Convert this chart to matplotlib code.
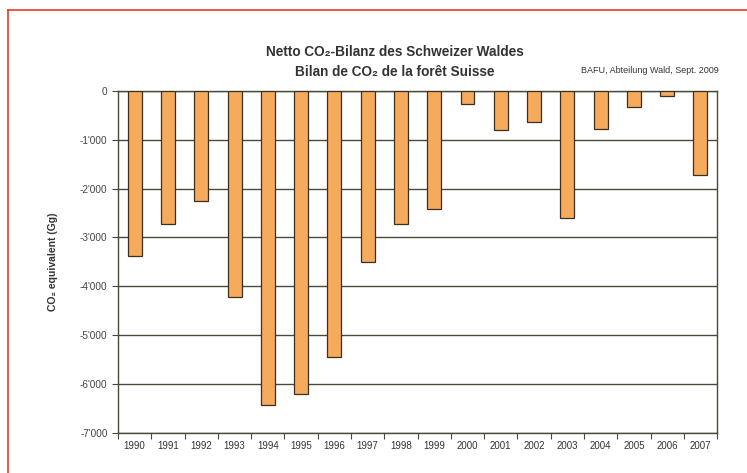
import numpy as np
import matplotlib.pyplot as plt
from matplotlib.lines import Line2D

years = ['1990', '1991', '1992', '1993', '1994', '1995', '1996', '1997', '1998',
         '1999', '2000', '2001', '2002', '2003', '2004', '2005', '2006', '2007']
bilanz = [-3370, -2720, -2250, -4210, -6420, -6200, -5440, -3500, -2720,
          -2410, -270, -800, -630, -2600, -780, -330, -100, -1720]
yticks = [0, -1000, -2000, -3000, -4000, -5000, -6000, -7000]

plt.rcParams['font.family'] = ['Liberation Sans', 'DejaVu Sans']

fig = plt.figure(figsize=(7.47, 4.73), dpi=100)
ax = fig.add_axes([0.158, 0.0846, 0.802, 0.7234])

grid_col = '#4a4a3a'
x = np.arange(len(years))
ax.bar(x, bilanz, width=0.42, color='#f5aa5c', edgecolor='#3a3020', linewidth=0.9, zorder=3)

ax.set_xlim(-0.5, len(years) - 0.5)
ax.set_ylim(-7000, 0)
ax.set_yticks(yticks)
ax.set_yticklabels(['0' if v == 0 else '-' + format(-v, ',').replace(',', "'") for v in yticks])
ax.set_xticks(np.arange(len(years) + 1) - 0.5, minor=False)
ax.set_xticklabels([])
ax.set_xticks(x, minor=True)
ax.set_xticklabels(years, minor=True)
ax.tick_params(axis='x', which='minor', length=0, pad=6, labelsize=7, colors='#333333')
ax.tick_params(axis='x', which='major', length=4, direction='out', color=grid_col)
ax.tick_params(axis='y', length=4, direction='out', color=grid_col, labelsize=7.2, labelcolor='#444444')
ax.yaxis.grid(True, color=grid_col, linewidth=1.0, zorder=1)
for s in ax.spines.values():
    s.set_color(grid_col)
    s.set_linewidth(1.0)

ax.set_ylabel('CO₂ equivalent (Gg)', fontsize=7.5, fontweight='bold', color='#333333', labelpad=16)

fig.text(0.528, 0.89, 'Netto CO₂-Bilanz des Schweizer Waldes', ha='center', va='center',
         fontsize=9.8, fontweight='bold', color='#333333')
fig.text(0.528, 0.847, 'Bilan de CO₂ de la forêt Suisse', ha='center', va='center',
         fontsize=9.8, fontweight='bold', color='#333333')
fig.text(0.962, 0.852, 'BAFU, Abteilung Wald, Sept. 2009', ha='right', va='center',
         fontsize=6.5, color='#333333')

# red frame
fig.add_artist(Line2D([8 / 747, 1.0], [1 - 10 / 473, 1 - 10 / 473], color='#e83a2a', linewidth=1.2))
fig.add_artist(Line2D([8 / 747, 8 / 747], [0, 1 - 10 / 473], color='#e83a2a', linewidth=1.2))

fig.savefig('out.png', dpi=100)
